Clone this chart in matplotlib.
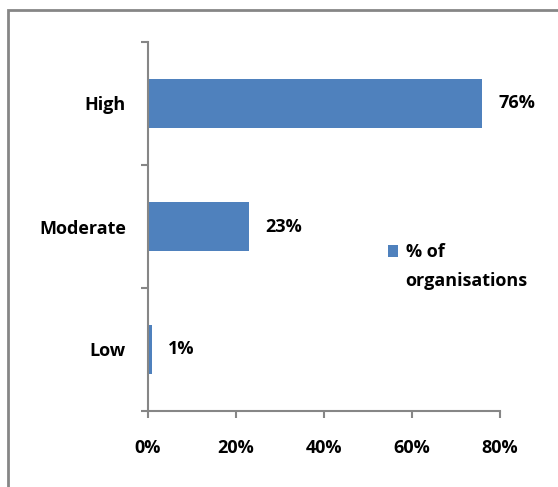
import matplotlib
matplotlib.use("Agg")
import matplotlib.pyplot as plt
from matplotlib.patches import Rectangle

# data
categories = ["Low", "Moderate", "High"]
values = [1, 23, 76]
xticks = [0, 20, 40, 60, 80]
legend_lines = ["% of", "organisations"]

bar_color = "#4F81BD"
axis_color = "#868686"
fs = 13

plt.rcParams["font.family"] = ["Open Sans", "DejaVu Sans"]
plt.rcParams["font.weight"] = "bold"

fig = plt.figure(figsize=(5.58, 4.87), dpi=100)
ax = fig.add_axes([148 / 558, 76 / 487, 352 / 558, 369 / 487])

# outer chart border (cut off at right and bottom in the original)
fig.patches.append(Rectangle((8 / 558, -0.1), 1.2, 0.1 + 477 / 487,
                             transform=fig.transFigure, fill=False,
                             edgecolor=axis_color, linewidth=2, clip_on=False))

ypos = range(len(categories))
bars = ax.barh(ypos, values, height=0.4, color=bar_color, label=legend_lines[0])

for b, v in zip(bars, values):
    ax.annotate(f"{v}%", (b.get_width(), b.get_y() + b.get_height() / 2),
                xytext=(16, 0), textcoords="offset pixels",
                va="center", ha="left", fontsize=fs, fontweight="bold")

ax.set_xlim(0, 80)
ax.set_ylim(-0.5, len(categories) - 0.5)
ax.set_xticks(xticks)
ax.set_xticklabels([f"{t}%" for t in xticks], fontsize=fs, fontweight="bold")
ax.set_yticks(list(ypos))
ax.set_yticklabels(categories, fontsize=fs, fontweight="bold")
ax.set_yticks([i - 0.5 for i in range(len(categories) + 1)], minor=True)

ax.tick_params(axis="y", which="major", length=0, pad=16)
ax.tick_params(axis="y", which="minor", length=5, color=axis_color, width=1.5, direction="out")
ax.tick_params(axis="x", length=5, color=axis_color, width=1.5, direction="out", pad=15)

for s in ["top", "right"]:
    ax.spines[s].set_visible(False)
for s in ["left", "bottom"]:
    ax.spines[s].set_color(axis_color)
    ax.spines[s].set_linewidth(1.5)

# legend: marker sits next to the first line, the label wraps underneath
leg = ax.legend(loc="center left", bbox_to_anchor=(0.655, 0.43), frameon=False,
                handlelength=0.6, handleheight=0.6, handletextpad=0.4,
                borderpad=0, prop={"size": fs, "weight": "bold"})
fig.canvas.draw()
bb = leg.get_texts()[0].get_window_extent().transformed(ax.transAxes.inverted())
ax.text(bb.x0, bb.y0 - 0.028, legend_lines[1], transform=ax.transAxes,
        ha="left", va="top", fontsize=fs, fontweight="bold")

fig.savefig("out.png", dpi=100)
